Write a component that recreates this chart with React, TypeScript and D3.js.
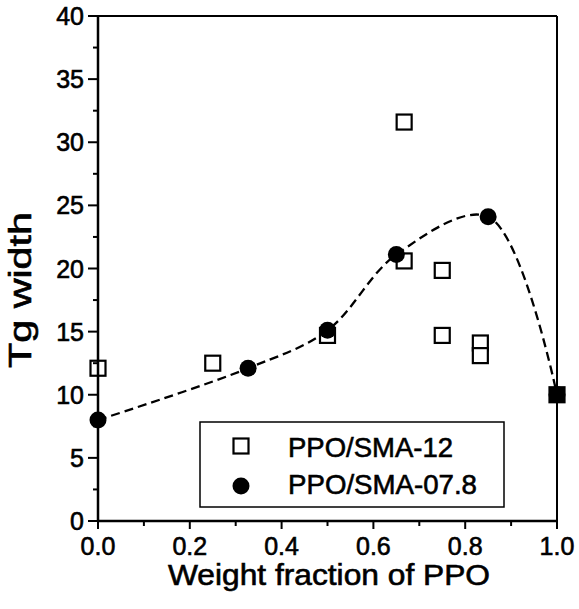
import React from 'react';
import * as d3 from 'd3';

const sma12X = [0, 0.25, 0.5, 0.667, 0.667, 0.75, 0.75, 0.833, 0.833, 1.0];
const sma12Y = [12.1, 12.5, 14.7, 31.6, 20.6, 19.85, 14.7, 14.1, 13.1, 10.0];
const sma078X = [0, 0.327, 0.5, 0.65, 0.85, 1.0];
const sma078Y = [8.0, 12.1, 15.1, 21.1, 24.1, 10.0];
const xTicks = [0, 0.2, 0.4, 0.6, 0.8, 1.0];
const xMinorTicks = [0.1, 0.3, 0.5, 0.7, 0.9];
const yTicks = [0, 5, 10, 15, 20, 25, 30, 35, 40];
const yMinorTicks = [2.5, 7.5, 12.5, 17.5, 22.5, 27.5, 32.5, 37.5];
const legendLabels = ['PPO/SMA-12', 'PPO/SMA-07.8'];
const xTitle = 'Weight fraction of PPO';
const yTitle = 'Tg width';

const FONT = '"Liberation Sans", Arial, Helvetica, sans-serif';

export default function App() {
  const W = 579, H = 609;
  const x = d3.scaleLinear().domain([0, 1]).range([98, 557]);
  const y = d3.scaleLinear().domain([0, 40]).range([521, 16]);
  const [x0, x1] = x.range();
  const [y0, y1] = y.range();

  const sq = sma12X.map((v, i) => ({ x: v, y: sma12Y[i] }));
  const ci = sma078X.map((v, i) => ({ x: v, y: sma078Y[i] }));
  const coincide = (p: { x: number; y: number }) => ci.some(c => c.x === p.x && c.y === p.y);

  const line = d3
    .line<{ x: number; y: number }>()
    .x(d => x(d.x))
    .y(d => y(d.y))
    .curve(d3.curveCatmullRom.alpha(0.5));

  const S = 15;
  const R = 8.5;
  const ts = { stroke: '#000', strokeWidth: 0.6 };

  return (
    <svg width={W} height={H} style={{ position: 'absolute', left: 0, top: 0, background: '#fff' }} fontFamily={FONT}>
      <rect x={0} y={0} width={W} height={H} fill="#fff" />
      {/* dashed fit curve */}
      <path d={line(ci) || ''} fill="none" stroke="#000" strokeWidth={2.3} strokeDasharray="9,5" />
      {/* squares */}
      {sq.map((p, i) => (
        <rect key={'s' + i} x={x(p.x) - S / 2} y={y(p.y) - S / 2} width={S} height={S}
          fill={coincide(p) ? '#000' : '#fff'} stroke="#000" strokeWidth={2.2} />
      ))}
      {/* circles */}
      {ci.map((p, i) => (
        <circle key={'c' + i} cx={x(p.x)} cy={y(p.y)} r={R} fill="#000" />
      ))}
      {/* frame */}
      <line x1={x0} x2={x1} y1={y1} y2={y1} stroke="#000" strokeWidth={2} />
      <line x1={x1} x2={x1} y1={y1} y2={y0} stroke="#000" strokeWidth={2} />
      <line x1={x0} x2={x1 + 1} y1={y0} y2={y0} stroke="#000" strokeWidth={2.5} />
      <line x1={x0} x2={x0} y1={y1} y2={y0 + 1} stroke="#000" strokeWidth={2.5} />
      {/* y ticks */}
      {yTicks.map(t => (
        <g key={'yt' + t}>
          <line x1={x0 - 10} x2={x0} y1={y(t)} y2={y(t)} stroke="#000" strokeWidth={2} />
          <text x={x0 - 14} y={y(t)} dy="0.36em" textAnchor="end" fontSize={25} {...ts}>{t}</text>
        </g>
      ))}
      {yMinorTicks.map(t => (
        <line key={'ym' + t} x1={x0 - 5} x2={x0} y1={y(t)} y2={y(t)} stroke="#000" strokeWidth={2} />
      ))}
      {/* x ticks */}
      {xTicks.map(t => (
        <g key={'xt' + t}>
          <line x1={x(t)} x2={x(t)} y1={y0} y2={y0 + 8} stroke="#000" strokeWidth={2} />
          <text x={x(t)} y={555} textAnchor="middle" fontSize={25} {...ts}>{d3.format('.1f')(t)}</text>
        </g>
      ))}
      {xMinorTicks.map(t => (
        <line key={'xm' + t} x1={x(t)} x2={x(t)} y1={y0} y2={y0 + 5} stroke="#000" strokeWidth={2} />
      ))}
      {/* axis titles */}
      <text x={168} y={585} fontSize={29} textLength={322} lengthAdjust="spacingAndGlyphs" {...ts}>{xTitle}</text>
      <text transform="translate(31,290) rotate(-90)" textAnchor="middle" fontSize={31}
        textLength={156} lengthAdjust="spacingAndGlyphs" {...ts}>{yTitle}</text>
      {/* legend */}
      <rect x={200} y={422} width={304} height={85} fill="#fff" stroke="#000" strokeWidth={1.5} />
      <rect x={241 - S / 2} y={446 - S / 2} width={S} height={S} fill="#fff" stroke="#000" strokeWidth={2.2} />
      <circle cx={241} cy={486} r={R} fill="#000" />
      <text x={288} y={457} fontSize={28} textLength={165} lengthAdjust="spacingAndGlyphs" {...ts}>{legendLabels[0]}</text>
      <text x={288} y={494} fontSize={28} textLength={189} lengthAdjust="spacingAndGlyphs" {...ts}>{legendLabels[1]}</text>
    </svg>
  );
}
